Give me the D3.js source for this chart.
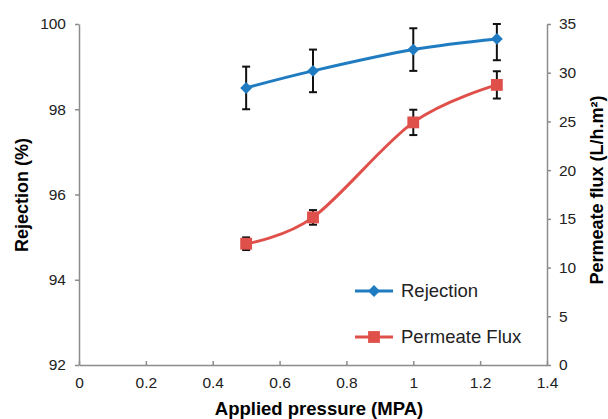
<!DOCTYPE html>
<html>
<head>
<meta charset="utf-8">
<script src="https://cdn.jsdelivr.net/npm/d3@7"></script>
<style>
  body { margin: 0; background: #fff; }
  svg { display: block; font-family: "Liberation Sans", Arial, sans-serif; }
</style>
</head>
<body>
<svg width="608" height="419"></svg>
<script>
// data
var pressure = [0.5, 0.7, 1.0, 1.25];
var rejection = [98.5, 98.9, 99.4, 99.65];
var rejectionErr = [0.5, 0.5, 0.5, 0.5];
var flux = [12.45, 15.15, 24.9, 28.75];
var fluxErr = [0.65, 0.75, 1.3, 1.4];
var xTicks = [0, 0.2, 0.4, 0.6, 0.8, 1, 1.2, 1.4];
var leftTicks = [92, 94, 96, 98, 100];
var rightTicks = [0, 5, 10, 15, 20, 25, 30, 35];

var svg = d3.select("svg"),
    margin = {top: 24, right: 61, bottom: 54, left: 79},
    width = 608 - margin.left - margin.right,
    height = 419 - margin.top - margin.bottom,
    g = svg.append("g").attr("transform", "translate(" + margin.left + "," + margin.top + ")");

var blue = "#1f7cc1", red = "#e0504b", axisCol = "#8c8c8c";

var x = d3.scaleLinear().domain([0, 1.4]).range([0, width]),
    yL = d3.scaleLinear().domain([92, 100]).range([height, 0]).clamp(true),
    yR = d3.scaleLinear().domain([0, 35]).range([height, 0]).clamp(true);

// axes
var xAxis = g.append("g")
    .attr("transform", "translate(0," + height + ")")
    .call(d3.axisBottom(x).tickValues(xTicks).tickSizeInner(-4).tickSizeOuter(0).tickPadding(12)
      .tickFormat(function(d) { return d3.format("")(+d.toFixed(1)); }));

var leftAxis = g.append("g")
    .call(d3.axisLeft(yL).tickValues(leftTicks).tickSizeInner(4).tickSizeOuter(0).tickPadding(9));

var rightAxis = g.append("g")
    .attr("transform", "translate(" + width + ",0)")
    .call(d3.axisRight(yR).tickValues(rightTicks).tickSizeInner(4).tickSizeOuter(0).tickPadding(8));

[xAxis, leftAxis, rightAxis].forEach(function(a) {
  a.select(".domain").attr("stroke", axisCol).attr("stroke-width", 1.5);
  a.selectAll(".tick line").attr("stroke", axisCol).attr("stroke-width", 1.5);
  a.selectAll(".tick text").attr("fill", "#222").style("font-size", "15.5px")
    .style("font-family", "'Liberation Sans', Arial, sans-serif");
});

// axis titles
svg.append("text")
    .attr("x", 319).attr("y", 415)
    .attr("text-anchor", "middle")
    .style("font-size", "18.5px").style("font-weight", "bold")
    .text("Applied pressure (MPA)");

svg.append("text")
    .attr("transform", "translate(28,195) rotate(-90)")
    .attr("text-anchor", "middle")
    .style("font-size", "18px").style("font-weight", "bold")
    .text("Rejection (%)");

svg.append("text")
    .attr("transform", "translate(603,190) rotate(-90)")
    .attr("text-anchor", "middle")
    .style("font-size", "18px").style("font-weight", "bold")
    .text("Permeate flux (L/h.m²)");

var line = d3.line().curve(d3.curveCatmullRom.alpha(0));

var rejPts = pressure.map(function(p, i) { return [x(p), yL(rejection[i])]; });
var fluxPts = pressure.map(function(p, i) { return [x(p), yR(flux[i])]; });

// lines
g.append("path").attr("d", line(fluxPts)).attr("fill", "none")
    .attr("stroke", red).attr("stroke-width", 3);
g.append("path").attr("d", line(rejPts)).attr("fill", "none")
    .attr("stroke", blue).attr("stroke-width", 3);

// error bars
function errBars(vals, errs, scale) {
  var eb = g.append("g").attr("stroke", "#111").attr("stroke-width", 2);
  pressure.forEach(function(p, i) {
    var cx = x(p), y0 = scale(vals[i] - errs[i]), y1 = scale(vals[i] + errs[i]);
    eb.append("line").attr("x1", cx).attr("x2", cx).attr("y1", y0).attr("y2", y1);
    eb.append("line").attr("x1", cx - 4).attr("x2", cx + 4).attr("y1", y0).attr("y2", y0);
    eb.append("line").attr("x1", cx - 4).attr("x2", cx + 4).attr("y1", y1).attr("y2", y1);
  });
}
errBars(flux, fluxErr, yR);
errBars(rejection, rejectionErr, yL);

// markers
var diamond = d3.symbol().type(d3.symbolDiamond2).size(90);
var square = d3.symbol().type(d3.symbolSquare).size(140);

g.selectAll(".sq").data(fluxPts).enter().append("path")
    .attr("transform", function(d) { return "translate(" + d[0] + "," + d[1] + ")"; })
    .attr("d", square).attr("fill", red);

g.selectAll(".dm").data(rejPts).enter().append("path")
    .attr("transform", function(d) { return "translate(" + d[0] + "," + d[1] + ")"; })
    .attr("d", diamond).attr("fill", blue);

// legend
var legend = [
  {name: "Rejection", color: blue, sym: diamond, y: 291},
  {name: "Permeate Flux", color: red, sym: square, y: 337}
];
var lg = svg.selectAll(".lg").data(legend).enter().append("g")
    .attr("transform", function(d) { return "translate(355," + d.y + ")"; });
lg.append("line").attr("x1", 0).attr("x2", 38)
    .attr("stroke", function(d) { return d.color; }).attr("stroke-width", 3);
lg.append("path").attr("transform", "translate(19,0)")
    .attr("d", function(d) { return d.sym(); }).attr("fill", function(d) { return d.color; });
lg.append("text").attr("x", 46).attr("dy", "0.35em")
    .style("font-size", "18.5px").attr("fill", "#222")
    .text(function(d) { return d.name; });
</script>
</body>
</html>
